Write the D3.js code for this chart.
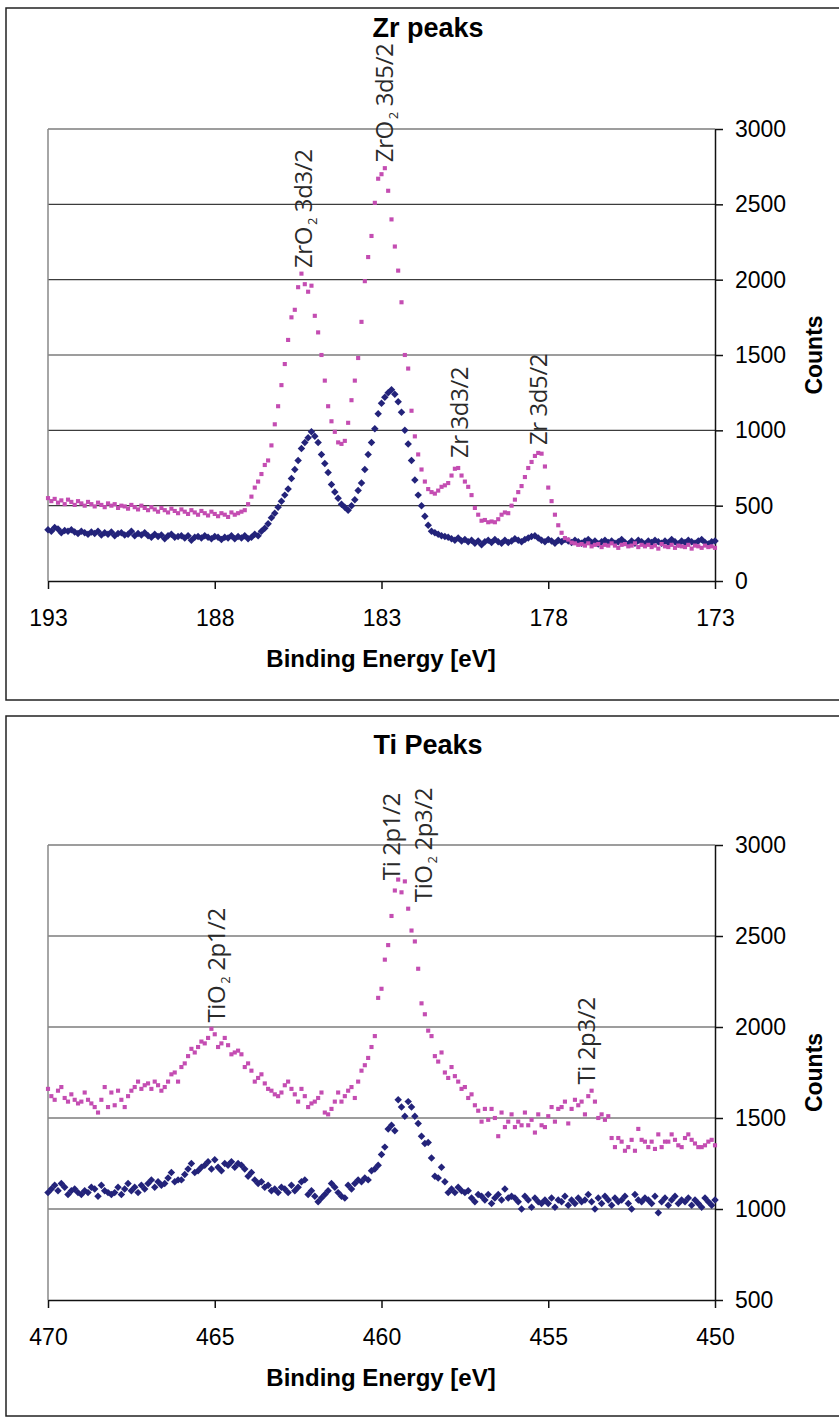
<!DOCTYPE html>
<html>
<head>
<meta charset="utf-8">
<script src="https://cdn.jsdelivr.net/npm/d3@7"></script>
<style>
  body { margin: 0; background: #fff; }
  svg { display: block; }
</style>
</head>
<body>
<svg id="chart" width="839" height="1418"></svg>
<script>
// ---- data, one value every 0.1 eV ----

// Zr panel: 193.0 eV down to 173.0 eV
const zrStart = 193.0;
const zrStep = 0.1;
const zrNavy = [
  340, 330, 355, 345, 320, 335, 330, 340, 325, 315,   // 193.0
  330, 320, 310, 325, 315, 330, 305, 320, 310, 325,   // 192.0
  300, 315, 320, 305, 310, 330, 300, 315, 305, 320,   // 191.0
  300, 290, 310, 295, 305, 280, 300, 310, 290, 295,   // 190.0
  300, 285, 300, 270, 290, 295, 285, 300, 290, 280,   // 189.0
  295, 290, 275, 290, 285, 300, 280, 295, 285, 300,   // 188.0
  280, 290, 310, 300, 330, 350, 380, 420, 450, 490,   // 187.0
  530, 570, 610, 680, 740, 800, 880, 920, 950, 990,   // 186.0
  960, 920, 840, 780, 720, 640, 590, 550, 510, 490,   // 185.0
  470, 500, 540, 600, 650, 740, 840, 920, 1010, 1110, // 184.0
  1180, 1220, 1250, 1270, 1240, 1190, 1120, 1000, 910, 800, // 183.0
  670, 570, 500, 430, 370, 330, 320, 310, 300, 295,   // 182.0
  290, 280, 270, 285, 265, 275, 260, 270, 250, 265,   // 181.0
  240, 260, 270, 255, 275, 260, 250, 270, 255, 265,   // 180.0
  280, 270, 260, 275, 285, 295, 300, 285, 270, 260,   // 179.0
  275, 265, 250, 270, 260, 275, 265, 255, 270, 260,   // 178.0
  250, 265, 275, 255, 265, 245, 260, 270, 255, 265,   // 177.0
  250, 260, 275, 255, 245, 265, 250, 270, 260, 245,   // 176.0
  265, 255, 270, 260, 250, 265, 255, 275, 260, 245,   // 175.0
  265, 255, 270, 260, 250, 265, 275, 255, 245, 260,   // 174.0
  265                                                 // 173.0
];
const zrPink = [
  550, 530, 545, 520, 535, 510, 540, 525, 505, 530,   // 193.0
  515, 500, 525, 510, 495, 520, 505, 490, 515, 500,   // 192.0
  510, 485, 500, 495, 480, 505, 490, 475, 500, 485,   // 191.0
  470, 490, 475, 460, 485, 470, 455, 480, 465, 450,   // 190.0
  475, 460, 445, 470, 455, 440, 465, 450, 435, 460,   // 189.0
  445, 430, 450, 440, 425, 455, 440, 450, 460, 470,   // 188.0
  510, 560, 620, 660, 710, 770, 800, 900, 1040, 1160, // 187.0
  1300, 1440, 1600, 1750, 1800, 1950, 2040, 1970, 1920, 1960, // 186.0
  1760, 1650, 1500, 1330, 1160, 1060, 990, 920, 910, 930,     // 185.0
  1050, 1200, 1330, 1480, 1720, 1990, 2150, 2290, 2510, 2670, // 184.0
  2700, 2740, 2590, 2400, 2220, 2060, 1850, 1500, 1410, 1130, // 183.0
  960, 840, 740, 660, 610, 590, 580, 600, 625, 635,   // 182.0
  650, 700, 745, 750, 700, 660, 625, 570, 485, 440,   // 181.0
  400, 405, 390, 395, 390, 410, 440, 455, 450, 500,   // 180.0
  540, 590, 630, 690, 750, 790, 830, 850, 845, 760,   // 179.0
  620, 530, 440, 370, 320, 285, 275, 255, 250, 240,   // 178.0
  245, 235, 250, 230, 240, 245, 225, 240, 235, 250,   // 177.0
  235, 220, 240, 245, 230, 235, 250, 225, 240, 230,   // 176.0
  240, 225, 235, 215, 245, 230, 225, 240, 220, 235,   // 175.0
  230, 225, 240, 215, 235, 230, 220, 235, 225, 230,   // 174.0
  220                                                 // 173.0
];

// Ti panel: 470.0 eV down to 450.0 eV
const tiStart = 470.0;
const tiStep = 0.1;
const tiNavy = [
  1090, 1110, 1130, 1100, 1140, 1120, 1080, 1100, 1110, 1090, // 470.0
  1080, 1100, 1090, 1120, 1110, 1070, 1130, 1100, 1090, 1080, // 469.0
  1090, 1120, 1080, 1110, 1140, 1100, 1120, 1090, 1130, 1110, // 468.0
  1140, 1160, 1120, 1150, 1130, 1140, 1170, 1200, 1150, 1160, // 467.0
  1160, 1190, 1220, 1250, 1200, 1210, 1230, 1240, 1260, 1220, // 466.0
  1270, 1230, 1210, 1250, 1240, 1260, 1230, 1250, 1240, 1220, // 465.0
  1180, 1200, 1160, 1140, 1150, 1120, 1130, 1100, 1110, 1090, // 464.0
  1120, 1110, 1090, 1130, 1100, 1120, 1150, 1160, 1080, 1100, // 463.0
  1070, 1040, 1060, 1080, 1100, 1140, 1120, 1090, 1070, 1060, // 462.0
  1130, 1110, 1140, 1160, 1150, 1170, 1160, 1210, 1220, 1240, // 461.0
  1300, 1340, 1440, 1460, 1430, 1600, 1560, 1510, 1590, 1560, // 460.0
  1510, 1470, 1400, 1360, 1365, 1280, 1180, 1170, 1230, 1150, // 459.0
  1090, 1110, 1090, 1120, 1100, 1090, 1100, 1060, 1040, 1080, // 458.0
  1070, 1050, 1080, 1030, 1060, 1080, 1050, 1110, 1060, 1070, // 457.0
  1060, 1040, 1000, 1070, 1050, 1010, 1060, 1040, 1030, 1050, // 456.0
  1030, 1060, 1010, 1050, 1040, 1070, 1020, 1050, 1030, 1060, // 455.0
  1040, 1050, 1080, 1040, 1000, 1060, 1030, 1070, 1050, 1020, // 454.0
  1060, 1040, 1050, 1070, 1030, 1000, 1080, 1050, 1040, 1060, // 453.0
  1050, 1030, 1070, 980, 1040, 1060, 1020, 1050, 1070, 1030,  // 452.0
  1050, 1040, 1060, 1020, 1050, 1030, 1010, 1060, 1040, 1020, // 451.0
  1050                                                        // 450.0
];
const tiPink = [
  1660, 1620, 1600, 1650, 1670, 1610, 1590, 1630, 1600, 1580, // 470.0
  1590, 1640, 1600, 1580, 1560, 1530, 1600, 1670, 1560, 1640, // 469.0
  1570, 1650, 1600, 1560, 1620, 1650, 1670, 1700, 1660, 1680, // 468.0
  1690, 1660, 1700, 1680, 1650, 1670, 1700, 1740, 1750, 1700, // 467.0
  1780, 1800, 1840, 1880, 1860, 1890, 1920, 1910, 1940, 1990, // 466.0
  1960, 1890, 1910, 1940, 1900, 1850, 1860, 1870, 1850, 1780, // 465.0
  1800, 1760, 1700, 1720, 1740, 1690, 1660, 1650, 1630, 1620, // 464.0
  1640, 1680, 1700, 1660, 1630, 1590, 1660, 1620, 1560, 1580, // 463.0
  1590, 1610, 1640, 1530, 1520, 1550, 1590, 1640, 1590, 1620, // 462.0
  1650, 1670, 1610, 1700, 1760, 1790, 1830, 1890, 1950, 2160, // 461.0
  2210, 2370, 2450, 2610, 2750, 2810, 2740, 2800, 2650, 2530, // 460.0
  2470, 2320, 2130, 2070, 1980, 1950, 1840, 1810, 1860, 1750, // 459.0
  1720, 1780, 1730, 1700, 1660, 1670, 1610, 1630, 1570, 1540, // 458.0
  1480, 1550, 1490, 1550, 1500, 1400, 1530, 1450, 1480, 1520, // 457.0
  1450, 1480, 1460, 1530, 1460, 1490, 1420, 1520, 1460, 1450, // 456.0
  1510, 1560, 1480, 1550, 1560, 1590, 1470, 1550, 1600, 1570, // 455.0
  1590, 1520, 1620, 1650, 1590, 1500, 1520, 1490, 1510, 1390, // 454.0
  1340, 1390, 1370, 1320, 1340, 1380, 1320, 1440, 1380, 1370, // 453.0
  1340, 1370, 1330, 1410, 1340, 1370, 1370, 1410, 1380, 1350, // 452.0
  1340, 1390, 1410, 1380, 1360, 1340, 1340, 1350, 1370, 1380, // 451.0
  1350                                                        // 450.0
];

const zrXTicks = [193, 188, 183, 178, 173];
const zrYTicks = [0, 500, 1000, 1500, 2000, 2500, 3000];
const tiXTicks = [470, 465, 460, 455, 450];
const tiYTicks = [500, 1000, 1500, 2000, 2500, 3000];

// peak labels: text pieces plus the (energy, counts) point where the rotated text starts
const zrLabels = [
  { pre: "ZrO", sub: "2", post: " 3d3/2", energy: 185.08, counts: 2077 },
  { pre: "ZrO", sub: "2", post: " 3d5/2", energy: 182.66, counts: 2780 },
  { pre: "Zr 3d3/2", sub: "", post: "", energy: 180.41, counts: 816 },
  { pre: "Zr 3d5/2", sub: "", post: "", energy: 178.04, counts: 902 }
];
const tiLabels = [
  { pre: "TiO", sub: "2", post: " 2p1/2", energy: 464.69, counts: 2025 },
  { pre: "Ti 2p1/2", sub: "", post: "", energy: 459.45, counts: 2807 },
  { pre: "TiO", sub: "2", post: " 2p3/2", energy: 458.49, counts: 2686 },
  { pre: "Ti 2p3/2", sub: "", post: "", energy: 453.60, counts: 1684 }
];

// ---- drawing ----
const NAVY = "#23237a";
const PINK = "#c44db2";
const AXIS_FONT = "'Liberation Sans', Arial, sans-serif";
const LABEL_FONT = "'Open Sans', 'DejaVu Sans', sans-serif";

const svg = d3.select("#chart");

function toPoints(values, start, step) {
  return values.map(function(v, i) { return { e: start - i * step, c: v }; });
}

function drawPanel(p) {
  const g = svg.append("g");

  // outer chart frame (runs off the right edge like the original)
  g.append("rect")
    .attr("x", 6).attr("y", p.frameTop)
    .attr("width", 860).attr("height", p.frameBottom - p.frameTop)
    .attr("fill", "none").attr("stroke", "#222").attr("stroke-width", 1.5);

  const x = d3.scaleLinear().domain(p.xDomain).range([48, 715]);
  const y = d3.scaleLinear().domain(p.yDomain).range([p.plotBottom, p.plotTop]);

  // horizontal gridlines
  g.append("g").selectAll("line")
    .data(p.yTicks.slice(1))
    .join("line")
    .attr("x1", 48).attr("x2", 715)
    .attr("y1", function(d) { return y(d); })
    .attr("y2", function(d) { return y(d); })
    .attr("stroke", "#3c3c3c").attr("stroke-width", 1.2);

  // left edge of plot area
  g.append("line")
    .attr("x1", 48).attr("x2", 48)
    .attr("y1", p.plotTop).attr("y2", p.plotBottom)
    .attr("stroke", "#888").attr("stroke-width", 1.5);

  // right value axis
  const yAxis = d3.axisRight(y).tickValues(p.yTicks).tickSize(8).tickSizeOuter(0)
    .tickPadding(12).tickFormat(d3.format("d"));
  const ya = g.append("g").attr("transform", "translate(715,0)").call(yAxis);
  ya.selectAll("path, line").attr("stroke", "#111").attr("stroke-width", 1.5);
  ya.selectAll("text").attr("font-family", AXIS_FONT).attr("font-size", 23).attr("fill", "#000");

  // bottom energy axis
  const xAxis = d3.axisBottom(x).tickValues(p.xTicks).tickSize(8).tickSizeOuter(0)
    .tickPadding(21).tickFormat(d3.format("d"));
  const xa = g.append("g").attr("transform", "translate(0," + p.plotBottom + ")").call(xAxis);
  xa.selectAll("path, line").attr("stroke", "#111").attr("stroke-width", 1.5);
  xa.selectAll("text").attr("font-family", AXIS_FONT).attr("font-size", 23).attr("fill", "#000");

  // series: navy diamonds first, pink squares on top
  const diamond = d3.symbol(d3.symbolSquare, 28);
  const square = d3.symbol(d3.symbolSquare, 17);

  g.append("g").selectAll("path")
    .data(toPoints(p.navy, p.start, p.step))
    .join("path")
    .attr("d", diamond)
    .attr("transform", function(d) { return "translate(" + x(d.e) + "," + y(d.c) + ") rotate(45)"; })
    .attr("fill", NAVY);

  g.append("g").selectAll("path")
    .data(toPoints(p.pink, p.start, p.step))
    .join("path")
    .attr("d", square)
    .attr("transform", function(d) { return "translate(" + x(d.e) + "," + y(d.c) + ")"; })
    .attr("fill", PINK);

  // peak labels, rotated
  const labels = g.append("g").selectAll("text")
    .data(p.labels)
    .join("text")
    .attr("transform", function(d) { return "translate(" + x(d.energy) + "," + y(d.counts) + ") rotate(-90)"; })
    .attr("font-family", LABEL_FONT).attr("font-size", 24).attr("letter-spacing", -0.4)
    .attr("fill", "#2a2a2a");
  labels.append("tspan").text(function(d) { return d.pre; });
  labels.filter(function(d) { return d.sub; }).append("tspan")
    .attr("font-size", 13).attr("dy", 5).attr("dx", 2).text(function(d) { return d.sub; });
  labels.filter(function(d) { return d.sub; }).append("tspan")
    .attr("dy", -5).text(function(d) { return d.post; });

  // titles
  g.append("text")
    .attr("x", 428).attr("y", p.titleY)
    .attr("text-anchor", "middle")
    .attr("font-family", AXIS_FONT).attr("font-weight", "bold").attr("font-size", 27)
    .text(p.title);

  g.append("text")
    .attr("x", 381).attr("y", p.plotBottom + 86)
    .attr("text-anchor", "middle")
    .attr("font-family", AXIS_FONT).attr("font-weight", "bold").attr("font-size", 24)
    .text("Binding Energy [eV]");

  g.append("text")
    .attr("transform", "translate(822," + ((p.plotTop + p.plotBottom) / 2) + ") rotate(-90)")
    .attr("text-anchor", "middle")
    .attr("font-family", AXIS_FONT).attr("font-weight", "bold").attr("font-size", 23)
    .text("Counts");
}

drawPanel({
  title: "Zr peaks", titleY: 37,
  frameTop: 8, frameBottom: 700,
  plotTop: 129, plotBottom: 581,
  xDomain: [193, 173], yDomain: [0, 3000],
  xTicks: zrXTicks, yTicks: zrYTicks,
  start: zrStart, step: zrStep,
  navy: zrNavy, pink: zrPink, labels: zrLabels
});

drawPanel({
  title: "Ti Peaks", titleY: 754,
  frameTop: 716, frameBottom: 1416,
  plotTop: 845, plotBottom: 1300,
  xDomain: [470, 450], yDomain: [500, 3000],
  xTicks: tiXTicks, yTicks: tiYTicks,
  start: tiStart, step: tiStep,
  navy: tiNavy, pink: tiPink, labels: tiLabels
});
</script>
</body>
</html>
